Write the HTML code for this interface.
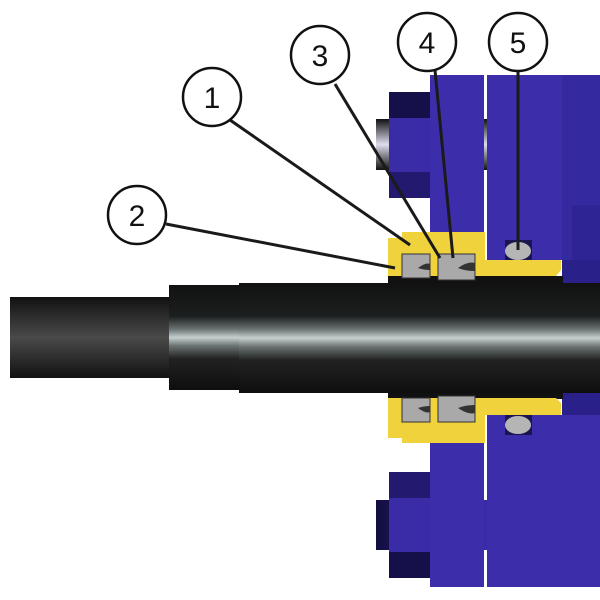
<!DOCTYPE html>
<html><head><style>html,body{margin:0;padding:0;background:#fff}svg{display:block}</style></head>
<body>
<svg width="600" height="600" viewBox="0 0 600 600" xmlns="http://www.w3.org/2000/svg">
<defs>
<linearGradient id="shaft" x1="0" y1="0" x2="0" y2="1">
<stop offset="0" stop-color="#111"/><stop offset="0.3" stop-color="#1c1f1f"/><stop offset="0.42" stop-color="#6a7272"/><stop offset="0.5" stop-color="#c5d0cf"/><stop offset="0.58" stop-color="#6a7272"/><stop offset="0.7" stop-color="#222"/><stop offset="1" stop-color="#0e0e0e"/></linearGradient>
<linearGradient id="thin" x1="0" y1="0" x2="0" y2="1">
<stop offset="0" stop-color="#111"/><stop offset="0.5" stop-color="#4a4a4a"/><stop offset="1" stop-color="#111"/></linearGradient>
<linearGradient id="stud" x1="0" y1="0" x2="0" y2="1">
<stop offset="0" stop-color="#111"/><stop offset="0.5" stop-color="#dde"/><stop offset="1" stop-color="#111"/></linearGradient>
<linearGradient id="studb" x1="0" y1="0" x2="1" y2="0">
<stop offset="0" stop-color="#120e40"/><stop offset="1" stop-color="#3a2ca8"/></linearGradient>
</defs>
<rect x="10" y="297" width="160" height="81" fill="url(#thin)"/>
<rect x="169" y="285" width="72" height="105" fill="url(#shaft)"/>
<rect x="239" y="283" width="361" height="110" fill="url(#shaft)"/>
<rect x="487" y="75" width="113" height="185" fill="#3c2eaa"/>
<rect x="562" y="75" width="38" height="185" fill="#3529a0"/>
<rect x="572" y="205" width="28" height="78" fill="#2f2494"/>
<rect x="562" y="260" width="38" height="23" fill="#2a208a"/>
<rect x="430" y="75" width="54" height="160" fill="#3c2eaa"/>
<rect x="376" y="119" width="114" height="51" fill="url(#stud)"/>
<rect x="389" y="92" width="41" height="106" fill="#3a2ca6"/>
<rect x="389" y="92" width="41" height="26" fill="#16104a"/>
<rect x="389" y="172" width="41" height="26" fill="#231a70"/>
<rect x="430" y="119" width="54" height="51" fill="#3c2eaa"/>
<rect x="487" y="119" width="75" height="51" fill="#3c2eaa"/>
<polygon points="402,232 485,232 485,260 561,260 561,270 556,276 388,276 388,238 402,238" fill="#f0d23c"/>
<rect x="388" y="276" width="175" height="7" fill="#111"/>
<rect x="505" y="240" width="27" height="20" fill="#1a1450"/>
<ellipse cx="518" cy="251" rx="13" ry="9" fill="#b5b5b5"/>
<rect x="402" y="254" width="28" height="24" fill="#a9a9a9" stroke="#333" stroke-width="1"/>
<rect x="438" y="254" width="37" height="26" fill="#a9a9a9" stroke="#333" stroke-width="1"/>
<path d="M418 268 q8-6 12-4 v6 q-6 0-12-2z M458 268 q10-7 17-5 v8 q-10 0-17-3z" fill="#333"/>
<rect x="487" y="415" width="113" height="172" fill="#3c2eaa"/>
<rect x="562" y="393" width="38" height="22" fill="#2a208a"/>
<rect x="430" y="443" width="54" height="144" fill="#3c2eaa"/>
<rect x="376" y="500" width="114" height="50" fill="url(#studb)"/>
<rect x="389" y="472" width="41" height="106" fill="#3a2ca6"/>
<rect x="389" y="472" width="41" height="26" fill="#231a70"/>
<rect x="389" y="552" width="41" height="26" fill="#16104a"/>
<rect x="430" y="500" width="54" height="50" fill="#3c2eaa"/>
<rect x="487" y="500" width="75" height="50" fill="#3c2eaa"/>
<rect x="388" y="393" width="175" height="6" fill="#111"/>
<polygon points="388,398 556,398 561,403 561,415 485,415 485,443 402,443 402,438 388,438" fill="#f0d23c"/>
<rect x="505" y="415" width="27" height="20" fill="#1a1450"/>
<ellipse cx="518" cy="425" rx="13" ry="9" fill="#b5b5b5"/>
<rect x="402" y="398" width="28" height="24" fill="#a9a9a9" stroke="#333" stroke-width="1"/>
<rect x="438" y="396" width="37" height="26" fill="#a9a9a9" stroke="#333" stroke-width="1"/>
<path d="M418 408 q8 6 12 4 v-6 q-6 0-12 2z M458 408 q10 7 17 5 v-8 q-10 0-17 3z" fill="#333"/>
<g stroke="#1a1a1a" stroke-width="3" fill="none">
<line x1="230" y1="120" x2="410" y2="245"/>
<line x1="166" y1="224" x2="395" y2="268"/>
<line x1="335" y1="84" x2="440" y2="258"/>
<line x1="435" y1="70" x2="453" y2="258"/>
<line x1="518" y1="70" x2="518" y2="250"/>
</g>
<g stroke="#111" stroke-width="2.5" fill="#fff">
<circle cx="212" cy="97" r="29"/><circle cx="137" cy="215" r="29"/><circle cx="320" cy="55" r="29"/><circle cx="427" cy="42" r="29"/><circle cx="518" cy="42" r="29"/>
</g>
<g font-family="Liberation Sans, sans-serif" font-size="30" fill="#111" text-anchor="middle">
<text x="212" y="108">1</text><text x="137" y="226">2</text><text x="320" y="66">3</text><text x="427" y="53">4</text><text x="518" y="53">5</text>
</g>
</svg>
</body></html>
